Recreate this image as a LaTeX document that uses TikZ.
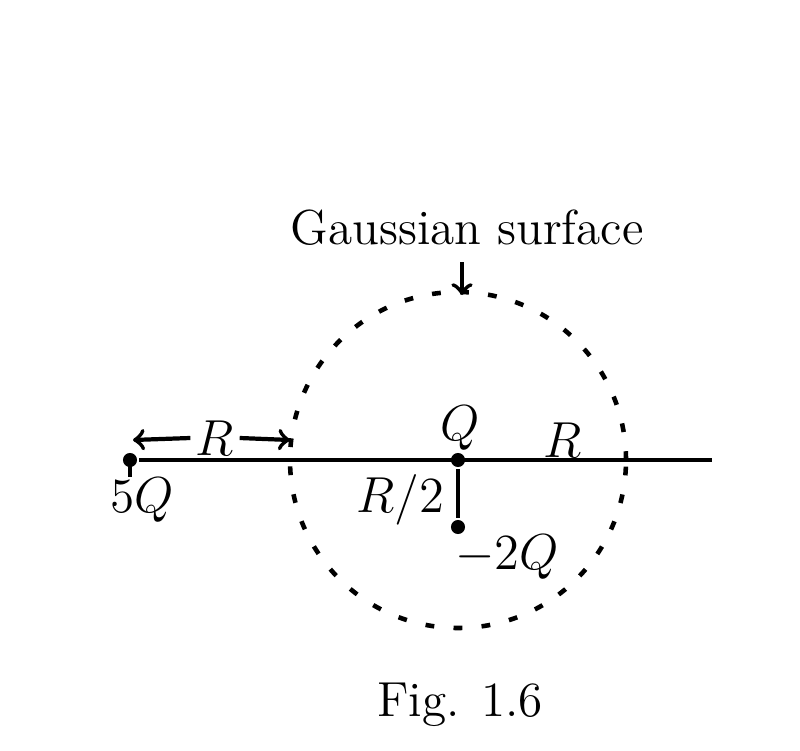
\documentclass[tikz,border=0pt]{standalone}
\usetikzlibrary{positioning}
\tikzset{
  charge/.style={circle, fill, inner sep=0pt, minimum size=4pt},
  lbl/.style={font=\fontsize{14}{17}\selectfont},
  gauss/.style={line width=1.3pt, dash pattern=on 2.5pt off 5.5pt}
}
\begin{document}
\begin{tikzpicture}[line width=1.2pt]
    \useasboundingbox (0,0) rectangle (8,7.5);
    % charges on the axis
    \node [charge] (fiveq) at (1.30,2.90) {};
    \node [charge] (q) at (4.58,2.90) {};
    \node [charge] (minq) at (4.58,2.23) {};
    \coordinate (axisend) at (7.12,2.90);
    \coordinate (tick) at (1.30,2.73);
    % Gaussian surface
    \draw [gauss] (q) circle (1.68);
    \draw (fiveq) -- (axisend);
    \draw (fiveq.center) -- (tick);
    \draw (q) -- (minq);
    % R arrows
    \coordinate (ra) at (1.33,3.10);
    \coordinate (rb) at (2.90,3.10);
    \node [lbl, inner sep=1pt] (rlab) at (2.15,3.12) {$R$};
    \draw [->] (rlab.west) -- (ra);
    \draw [->] (rlab.east) -- (rb);
    % labels
    \node [lbl] at (1.42,2.50) {5$Q$};
    \node [lbl] at (4.60,3.22) {$Q$};
    \node [lbl] at (5.63,3.10) {$R$};
    \node [lbl] at (4.00,2.50) {$R/2$};
    \node [lbl] at (5.07,1.93) {$-2Q$};
    \node [lbl] (gs) at (4.67,5.22) {Gaussian surface};
    \coordinate (gstip) at (4.62,4.55);
    \draw [->] (4.62,4.88) -- (gstip);
    \node [lbl] at (4.60,0.45) {Fig. 1.6};
\end{tikzpicture}
\end{document}
